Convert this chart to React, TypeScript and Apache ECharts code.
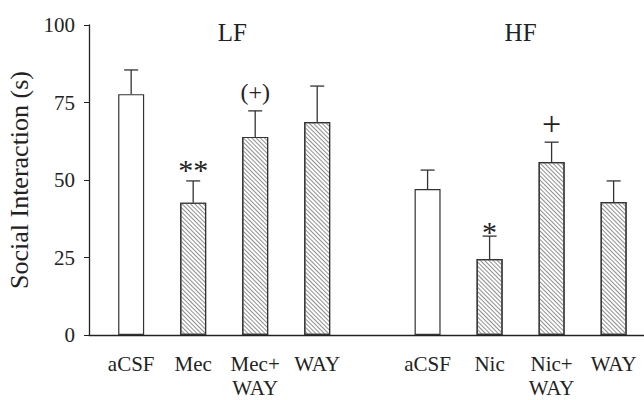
import React, { useEffect, useRef } from "react";
import * as echarts from "echarts";

const groupNames = ["LF", "HF"];
const lfLabels = ["aCSF", "Mec", "Mec+\nWAY", "WAY"];
const hfLabels = ["aCSF", "Nic", "Nic+\nWAY", "WAY"];
const lfMeans = [77.7, 42.7, 63.9, 68.7];
const lfSem = [7.8, 7.0, 8.4, 11.6];
const hfMeans = [47.1, 24.5, 55.8, 42.9];
const hfSem = [6.1, 7.4, 6.4, 6.8];
const lfMarks = ["", "**", "(+)", ""];
const hfMarks = ["", "*", "+", ""];
const hatched = [false, true, true, true];
const yTicks = [0, 25, 50, 75, 100];

const GROUP_OFFSET = 4.78;
const FONT = "'Liberation Serif', 'Times New Roman', serif";
const INK = "#222";

type Item = { x: number; mean: number; sem: number; mark: string; label: string; hatch: boolean };

const items: Item[] = [];
[
  { labels: lfLabels, means: lfMeans, sem: lfSem, marks: lfMarks },
  { labels: hfLabels, means: hfMeans, sem: hfSem, marks: hfMarks },
].forEach((g, gi) => {
  g.labels.forEach((lab, i) => {
    items.push({
      x: gi * GROUP_OFFSET + i,
      mean: g.means[i],
      sem: g.sem[i],
      mark: g.marks[i],
      label: lab,
      hatch: hatched[i],
    });
  });
});

const markStyle: Record<string, { size: number; dy: number }> = {
  "**": { size: 30, dy: -11 },
  "*": { size: 30, dy: -5 },
  "(+)": { size: 24, dy: -19 },
  "+": { size: 34, dy: -19 },
};

export default function App() {
  const ref = useRef<HTMLDivElement>(null);
  useEffect(() => {
    if (!ref.current) return;
    const chart = echarts.init(ref.current, null, { renderer: "svg" });
    const option: any = {
      animation: false,
      grid: { left: 89, right: 0, top: 25, bottom: 65, containLabel: false, outerBoundsMode: "none" },
      xAxis: {
        type: "value",
        min: -0.68,
        max: 8.27,
        axisLine: { show: true, onZero: false, lineStyle: { color: INK, width: 1.3 } },
        axisTick: { show: false },
        axisLabel: { show: false },
        splitLine: { show: false },
      },
      yAxis: {
        type: "value",
        min: 0,
        max: 100,
        interval: 25,
        name: "Social Interaction (s)",
        nameLocation: "middle",
        nameGap: 56,
        nameTextStyle: { fontFamily: FONT, fontSize: 26, color: INK },
        axisLine: { show: true, onZero: false, lineStyle: { color: INK, width: 1.3 } },
        axisTick: { show: true, length: 5, lineStyle: { color: INK } },
        axisLabel: {
          fontFamily: FONT,
          fontSize: 21,
          color: INK,
          margin: 14,
          formatter: (v: number) => (yTicks.includes(v) ? String(v) : ""),
        },
        splitLine: { show: false },
      },
      series: [
        {
          type: "bar",
          barWidth: 26,
          barGap: "-100%",
          data: items.filter((it) => !it.hatch).map((it) => [it.x, it.mean]),
          itemStyle: { color: "#fff", borderColor: "#333", borderWidth: 1.2 },
        },
        {
          type: "bar",
          barWidth: 26,
          barGap: "-100%",
          data: items.filter((it) => it.hatch).map((it) => [it.x, it.mean]),
          itemStyle: {
            color: "#fff",
            borderColor: "#333",
            borderWidth: 1.2,
            decal: {
              symbol: "rect",
              symbolSize: 1,
              dashArrayX: [1, 0],
              dashArrayY: [1, 2],
              rotation: Math.PI / 4,
              color: "#8f8f8f",
              backgroundColor: "#fff",
            },
          },
        },
        {
          type: "custom",
          data: items.map((it) => [it.x, it.mean, it.sem]),
          renderItem: (params: any, api: any) => {
            const it = items[params.dataIndex];
            const base = api.coord([it.x, it.mean]);
            const top = api.coord([it.x, it.mean + it.sem]);
            const zero = api.coord([it.x, 0]);
            const children: any[] = [
              {
                type: "line",
                shape: { x1: base[0], y1: base[1], x2: top[0], y2: top[1] },
                style: { stroke: "#333", lineWidth: 1.3 },
              },
              {
                type: "line",
                shape: { x1: top[0] - 7, y1: top[1], x2: top[0] + 7, y2: top[1] },
                style: { stroke: "#333", lineWidth: 1.3 },
              },
              {
                type: "text",
                style: {
                  x: zero[0],
                  y: zero[1] + 17,
                  text: it.label,
                  fontFamily: FONT,
                  fontSize: 21,
                  lineHeight: 24,
                  fill: INK,
                  align: "center",
                  verticalAlign: "top",
                },
              },
            ];
            if (it.mark) {
              const ms = markStyle[it.mark];
              children.push({
                type: "text",
                style: {
                  x: top[0],
                  y: top[1] + ms.dy,
                  text: it.mark,
                  fontFamily: FONT,
                  fontSize: ms.size,
                  fill: INK,
                  align: "center",
                  verticalAlign: "middle",
                },
              });
            }
            return { type: "group", children };
          },
          z: 5,
        },
        {
          type: "custom",
          data: groupNames.map((_, gi) => [gi * GROUP_OFFSET + 1.5, 97.5]),
          renderItem: (params: any, api: any) => {
            const c = api.coord([api.value(0) + (params.dataIndex === 0 ? 0.13 : 0), api.value(1)]);
            return {
              type: "text",
              style: {
                x: c[0],
                y: c[1],
                text: groupNames[params.dataIndex],
                fontFamily: FONT,
                fontSize: 25,
                fill: INK,
                align: "center",
                verticalAlign: "middle",
              },
            };
          },
        },
      ],
    };
    chart.setOption(option);
    return () => chart.dispose();
  }, []);
  return <div ref={ref} style={{ width: 644, height: 400, position: "absolute", left: 0, top: 0 }} />;
}
